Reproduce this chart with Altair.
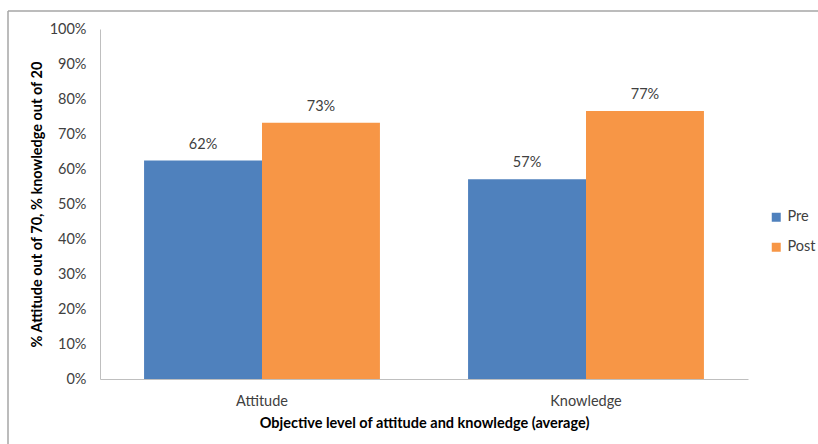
import altair as alt
import pandas as pd

# Average scores as a share of the maximum (attitude out of 70, knowledge out of 20)
categories = ["Attitude", "Knowledge"]
phases = ["Pre", "Post"]
pre_values = [0.624, 0.571]
post_values = [0.732, 0.766]
y_ticks = [0.0, 0.1, 0.2, 0.3, 0.4, 0.5, 0.6, 0.7, 0.8, 0.9, 1.0]

rows = []
for cat, pre, post in zip(categories, pre_values, post_values):
    rows.append({"level": cat, "phase": "Pre", "score": pre})
    rows.append({"level": cat, "phase": "Post", "score": post})
df = pd.DataFrame(rows)

FONT = "Lato"
TEXT = "#404040"
AXIS_GREY = "#BFBFBF"

base = alt.Chart(df).encode(
    x=alt.X(
        "level:N",
        sort=categories,
        scale=alt.Scale(paddingInner=0.272, paddingOuter=0.136),
        axis=alt.Axis(
            title="Objective level of attitude and knowledge (average)",
            labelAngle=0,
            ticks=False,
            domainColor=AXIS_GREY,
            labelPadding=15,
            titlePadding=9,
        ),
    ),
    xOffset=alt.XOffset("phase:N", sort=phases, scale=alt.Scale(paddingInner=0, paddingOuter=0)),
    y=alt.Y(
        "score:Q",
        scale=alt.Scale(domain=[0, 1]),
        axis=alt.Axis(
            title="% Attitude out of 70, % knowledge out of 20",
            format=".0%",
            values=y_ticks,
            labelOverlap=False,
            grid=False,
            ticks=False,
            domainColor=AXIS_GREY,
            labelPadding=14,
            titleX=-63,
            titleY=175,
            titleBaseline="middle",
            titleAlign="center",
            titleAngle=270,
        ),
    ),
)

bars = base.mark_bar(stroke=None).encode(
    color=alt.Color(
        "phase:N",
        sort=phases,
        scale=alt.Scale(domain=phases, range=["#4F81BD", "#F79646"]),
        legend=alt.Legend(
            title=None,
            orient="none",
            legendX=669,
            legendY=181,
            symbolType="square",
            symbolSize=81,
            symbolStrokeWidth=0,
            rowPadding=15,
            labelFontSize=14.5,
            labelFont=FONT,
            labelColor=TEXT,
            labelOffset=4,
        ),
    )
)

labels = base.mark_text(
    dy=-9, fontSize=14.5, font=FONT, color=TEXT, baseline="bottom"
).encode(text=alt.Text("score:Q", format=".0%"))

# Outer frame lines around the chart
frame_top = alt.Chart().mark_rule(color="#A6A6A6", strokeWidth=1.5).encode(
    x=alt.value(-92), x2=alt.value(760), y=alt.value(-18)
)
frame_left = alt.Chart().mark_rule(color="#A6A6A6", strokeWidth=1.5).encode(
    x=alt.value(-92), y=alt.value(-18), y2=alt.value(420)
)

chart = alt.layer(bars, labels, frame_top, frame_left).properties(
    width=648,
    height=350,
    autosize=alt.AutoSizeParams(type="none"),
    padding={"left": 100, "top": 29, "right": 70, "bottom": 65},
    background="white",
).configure_view(stroke=None).configure_axis(
    labelFont=FONT,
    labelFontSize=14.5,
    labelColor=TEXT,
    titleFont=FONT,
    titleFontSize=14.5,
    titleFontWeight="bold",
    titleColor="#000000",
)

chart.save("out.html", embed_options={"renderer": "svg", "actions": False})
